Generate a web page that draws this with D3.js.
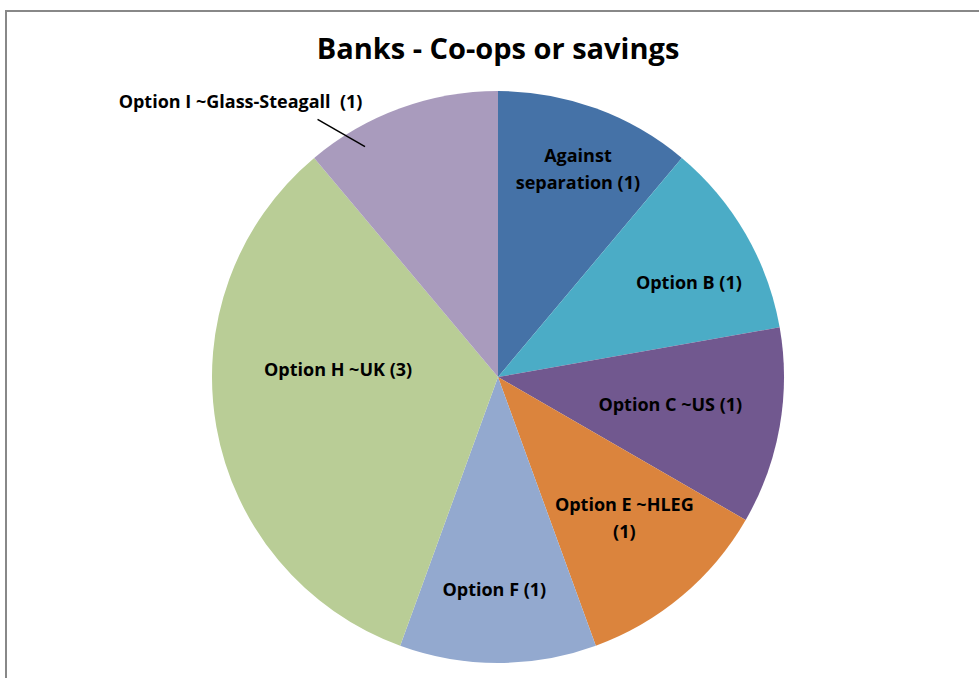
<!DOCTYPE html>
<html>
<head>
<meta charset="utf-8">
<script src="https://cdn.jsdelivr.net/npm/d3@7"></script>
<style>
  body { margin: 0; background: #fff; }
  text { font-family: "Open Sans", sans-serif; font-weight: bold; fill: #000; white-space: pre; }
</style>
</head>
<body>
<script>
// chart data
var options = ["Against separation", "Option B", "Option C ~US", "Option E ~HLEG",
               "Option F", "Option H ~UK", "Option I ~Glass-Steagall"];
var votes = [1, 1, 1, 1, 1, 3, 1];
var labelLines = [
  ["Against", "separation (1)"],
  ["Option B (1)"],
  ["Option C ~US (1)"],
  ["Option E ~HLEG", "(1)"],
  ["Option F (1)"],
  ["Option H ~UK (3)"],
  ["Option I ~Glass-Steagall  (1)"]
];
var sliceColors = ["#4572a7", "#4bacc6", "#71588f", "#db843d", "#93a9cf", "#b9cd96", "#a99bbd"];

// layout: how far out each label sits (fraction of radius), and its angle nudge in degrees
var labelRadius = [0.78, 0.745, 0.61, 0.66, 0.74, 0.56, 1.32];
var labelNudge = [1, 3.6, -1, -2, 1, 12.9, -23];

var width = 979, height = 678;
var cx = 498, cy = 377, radius = 286;

var svg = d3.select("body").append("svg")
  .attr("width", width)
  .attr("height", height);

// outer chart frame
svg.append("rect")
  .attr("x", 6).attr("y", 11)
  .attr("width", width + 10).attr("height", height + 10)
  .attr("fill", "#fff")
  .attr("stroke", "#888")
  .attr("stroke-width", 2);

svg.append("text")
  .attr("x", cx).attr("y", 59)
  .attr("text-anchor", "middle")
  .style("font-size", "29px")
  .text("Banks - Co-ops or savings");

var pie = d3.pie().sort(null).value(d => d);
var arcs = pie(votes);
var arc = d3.arc().innerRadius(0).outerRadius(radius);

var g = svg.append("g").attr("transform", `translate(${cx},${cy})`);

g.selectAll("path.slice")
  .data(arcs)
  .enter()
  .append("path")
  .attr("class", "slice")
  .attr("d", arc)
  .attr("fill", (d, i) => sliceColors[i]);

function polar(angle, r) {
  return [Math.sin(angle) * r, -Math.cos(angle) * r];
}

var lineH = 27;
arcs.forEach(function(d, i) {
  var mid = (d.startAngle + d.endAngle) / 2 + labelNudge[i] * Math.PI / 180;
  var p = polar(mid, labelRadius[i] * radius);
  var lines = labelLines[i];
  var t = g.append("text")
    .attr("text-anchor", "middle")
    .style("font-size", "18px");
  lines.forEach(function(line, k) {
    t.append("tspan")
      .attr("x", p[0])
      .attr("y", p[1] + (k - (lines.length - 1) / 2) * lineH + 7)
      .text(line);
  });
});

// leader line for the outside label (Option I)
var iMid = (arcs[6].startAngle + arcs[6].endAngle) / 2;
var a0 = polar(iMid - 15 * Math.PI / 180, 1.1 * radius);
var a1 = polar(iMid - 10 * Math.PI / 180, 0.93 * radius);
g.append("line")
  .attr("x1", a0[0]).attr("y1", a0[1])
  .attr("x2", a1[0]).attr("y2", a1[1])
  .attr("stroke", "#000")
  .attr("stroke-width", 1.5);
</script>
</body>
</html>
